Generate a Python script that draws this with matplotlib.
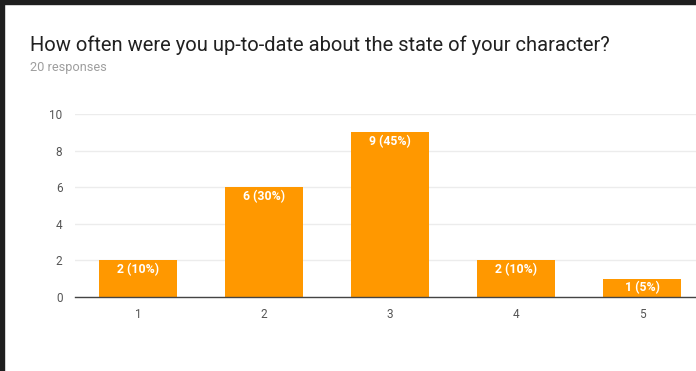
import matplotlib.pyplot as plt
from matplotlib.patches import Rectangle

# survey answers
answers = [1, 2, 3, 4, 5]
counts = [2, 6, 9, 2, 1]
total = 20
y_ticks = [0, 2, 4, 6, 8, 10]

title = "How often were you up-to-date about the state of your character?"
subtitle = "20 responses"

W, H = 696, 371
fig = plt.figure(figsize=(W / 100, H / 100), dpi=100)
fig.patch.set_facecolor("white")

# plot area runs a bit past the right edge of the image
left, right, bottom, top = 75, 705, 297, 114
ax = fig.add_axes([left / W, 1 - bottom / H, (right - left) / W, (bottom - top) / H])
ax.set_xlim(0.5, 5.5)
ax.set_ylim(0, 10)

bars = ax.bar(answers, counts, width=0.62, color="#ff9800", zorder=3)
for b, c in zip(bars, counts):
    pct = round(c / total * 100)
    ax.annotate(f"{c} ({pct}%)", (b.get_x() + b.get_width() / 2, c),
                xytext=(0, -9), textcoords="offset pixels",
                ha="center", va="center", color="white",
                fontsize=8.8, fontweight="bold", family="Roboto", zorder=4)

ax.set_yticks(y_ticks)
ax.set_xticks(answers)
ax.grid(axis="y", color="#ececec", linewidth=1, zorder=0)
for s in ["top", "right", "left"]:
    ax.spines[s].set_visible(False)
ax.spines["bottom"].set_color("#444444")
ax.spines["bottom"].set_linewidth(1)
ax.spines["bottom"].set_zorder(5)
ax.tick_params(axis="both", length=0, labelsize=8.5, labelcolor="#555555")
ax.tick_params(axis="y", pad=9)
ax.tick_params(axis="x", pad=8)
for lab in ax.get_xticklabels() + ax.get_yticklabels():
    lab.set_family("Roboto")

fig.text(30 / W, 1 - 45 / H, title, fontsize=14.5, family="Roboto",
         color="#212121", va="center", ha="left")
fig.text(30 / W, 1 - 67 / H, subtitle, fontsize=9.2, family="Roboto",
         color="#9e9e9e", va="center", ha="left")

# dark frame on top and left
frame = "#1e1e1e"
fig.patches.append(Rectangle((0, 1 - 4 / H), 1, 4 / H, transform=fig.transFigure, color=frame, zorder=10))
fig.patches.append(Rectangle((0, 0), 4 / W, 1, transform=fig.transFigure, color=frame, zorder=10))

fig.savefig("out.png", dpi=100)
